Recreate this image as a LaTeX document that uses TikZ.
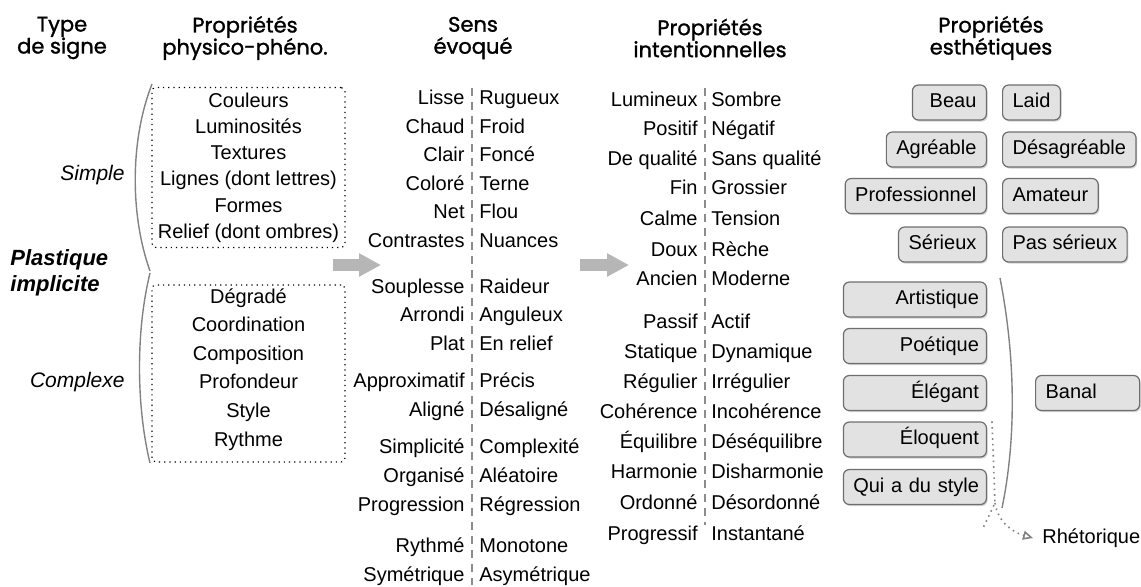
\documentclass[tikz,border=0pt]{standalone}
\usepackage{fontspec}
\setmainfont{Liberation Sans}
\newfontfamily\headfont[FakeBold=1.3]{Poppins}
\usetikzlibrary{arrows.meta,shadows}

\definecolor{boxfill}{RGB}{226,226,226}
\definecolor{boxline}{RGB}{110,110,110}
\definecolor{sepgray}{RGB}{140,140,140}
\definecolor{arrowgray}{RGB}{182,182,182}
\definecolor{curvegray}{RGB}{130,130,130}

\tikzset{
  word/.style={inner sep=0pt, text height=7.5pt, text depth=2.2pt, font=\fontsize{10}{12}\selectfont},
  head/.style={align=center, font=\headfont\fontsize{10.5}{11}\selectfont},
  dotbox/.style={draw, dotted, line width=0.6pt, rounded corners=2pt},
  bigarrow/.style={draw=arrowgray, line width=6pt, -{Triangle[length=11pt,width=11pt]}},
  sepline/.style={draw=sepgray, line width=0.8pt, dash pattern=on 4pt off 3pt},
  estbox/.style={word, draw=boxline, fill=boxfill, rounded corners=3pt, line width=0.6pt,
    minimum height=17.5pt, inner xsep=5pt,
    drop shadow={shadow xshift=0.6pt, shadow yshift=-0.8pt, opacity=0.35}},
}

\begin{document}
\begin{tikzpicture}[x=0.5pt,y=-0.5pt]
\useasboundingbox (0,0) rectangle (1141,586);

% headers
\node[head] (h1) at (62,38) {Type\\de signe};
\node[head] (h2) at (245,38) {Propriétés\\physico-phéno.};
\node[head] (h3) at (473,38) {Sens\\évoqué};
\node[head] (h4) at (710,38) {Propriétés\\intentionnelles};
\node[head] (h5) at (991,38) {Propriétés\\esthétiques};

% type de signe
\node[word, anchor=east, font=\itshape\fontsize{10.5}{12}\selectfont] (simple) at (125,175) {Simple};
\node[word, anchor=east, font=\itshape\fontsize{10.5}{12}\selectfont] (complexe) at (125,382) {Complexe};
\node[anchor=west, align=left, inner sep=0pt, font=\bfseries\itshape\fontsize{11}{13}\selectfont] (plastique) at (10,273) {Plastique\\implicite};
\draw[curvegray, line width=0.7pt] (152,84) .. controls (130,140) and (130,215) .. (150,271);
\draw[curvegray, line width=0.7pt] (150,273) .. controls (136,330) and (136,405) .. (150,463);

% physico-phéno
\node[dotbox, minimum width=96.5pt, minimum height=80pt] (simplebox) at (248.5,167.5) {};
\node[dotbox, minimum width=96.5pt, minimum height=88.5pt] (complexbox) at (248.5,373.5) {};
\foreach \y/\t [count=\i] in {102/Couleurs, 128/Luminosités, 154/Textures,
    180/Lignes (dont lettres), 207/Formes, 233/Relief (dont ombres)}
  \node[word] (ps\i) at (248.5,\y) {\t};
\foreach \y/\t [count=\i] in {298/Dégradé, 326/Coordination, 355/Composition,
    383/Profondeur, 412/Style, 441/Rythme}
  \node[word] (pc\i) at (248.5,\y) {\t};

% arrows
\coordinate (a1s) at (333,265);
\coordinate (a1e) at (381,265);
\coordinate (a2s) at (580,265);
\coordinate (a2e) at (629,265);
\draw[bigarrow] (a1s) -- (a1e);
\draw[bigarrow] (a2s) -- (a2e);

% sens evoque
\draw[sepline] (472,88) -- (472,585);
\foreach \y/\l/\r [count=\i] in {99/Lisse/Rugueux, 128/Chaud/Froid, 156/Clair/Foncé,
    185/Coloré/Terne, 213/Net/Flou, 242/Contrastes/Nuances, 288/Souplesse/Raideur,
    316/Arrondi/Anguleux, 345/Plat/En relief, 382/Approximatif/Précis,
    411/Aligné/Désaligné, 448/Simplicité/Complexité, 477/Organisé/Aléatoire,
    506/Progression/Régression, 547/Rythmé/Monotone, 576/Symétrique/Asymétrique}
{
  \node[word, anchor=east] (sl\i) at (465,\y) {\l};
  \node[word, anchor=west] (sr\i) at (479,\y) {\r};
}

% intentionnelles
\draw[sepline] (705,88) -- (705,525);
\foreach \y/\l/\r [count=\i] in {101/Lumineux/Sombre, 130/Positif/Négatif,
    160/De qualité/Sans qualité, 189/Fin/Grossier, 220/Calme/Tension,
    251/Doux/Rèche, 280/Ancien/Moderne, 323/Passif/Actif, 353/Statique/Dynamique,
    383/Régulier/Irrégulier, 413/Cohérence/Incohérence, 443/Équilibre/Déséquilibre,
    473/Harmonie/Disharmonie, 504/Ordonné/Désordonné, 535/Progressif/Instantané}
{
  \node[word, anchor=east] (il\i) at (698,\y) {\l};
  \node[word, anchor=west] (ir\i) at (711,\y) {\r};
}

% esthetiques
\node[estbox, anchor=east, minimum width=37pt, align=right, text width=27pt] (beau) at (987,102.5) {Beau};
\node[estbox, anchor=west] (laid) at (1002,102.5) {Laid};
\node[estbox, anchor=east] (agreable) at (987,149.5) {Agréable};
\node[estbox, anchor=west] (desagreable) at (1002,149.5) {Désagréable};
\node[estbox, anchor=east] (pro) at (987,196) {Professionnel};
\node[estbox, anchor=west] (amateur) at (1002,196) {Amateur};
\node[estbox, anchor=east] (serieux) at (987,244.5) {Sérieux};
\node[estbox, anchor=west] (passerieux) at (1002,244.5) {Pas sérieux};
\foreach \y/\t/\n in {299.5/Artistique/artis, 346/Poétique/poet, 393/Élégant/eleg,
    439.5/Éloquent/eloq, 487/Qui a du style/style}
  \node[estbox, anchor=east, text width=64pt, inner xsep=3.75pt, align=right] (\n) at (987,\y) {\t};
\node[estbox, anchor=west, text width=42pt, align=left] (banal) at (1035,393) {Banal};
\draw[curvegray, line width=0.7pt] (1000,278) .. controls (1016,360) and (1016,440) .. (1002,508);

% rhetorique
\node[word, anchor=west, inner xsep=4.5pt] (rhet) at (1033,538) {Rhétorique};
\coordinate (rh1) at (995,503);
\coordinate (rh2) at (983,528);
\draw[curvegray, dotted, line width=0.8pt] ([xshift=2.5pt]eloq.north east) -- (rh1) -- (rh2);
\draw[curvegray, dotted, line width=0.8pt, -{Triangle[open,length=5pt,width=4.5pt]}]
  (rh1) .. controls (998,522) and (1012,532) .. (rhet.west);
\end{tikzpicture}
\end{document}
